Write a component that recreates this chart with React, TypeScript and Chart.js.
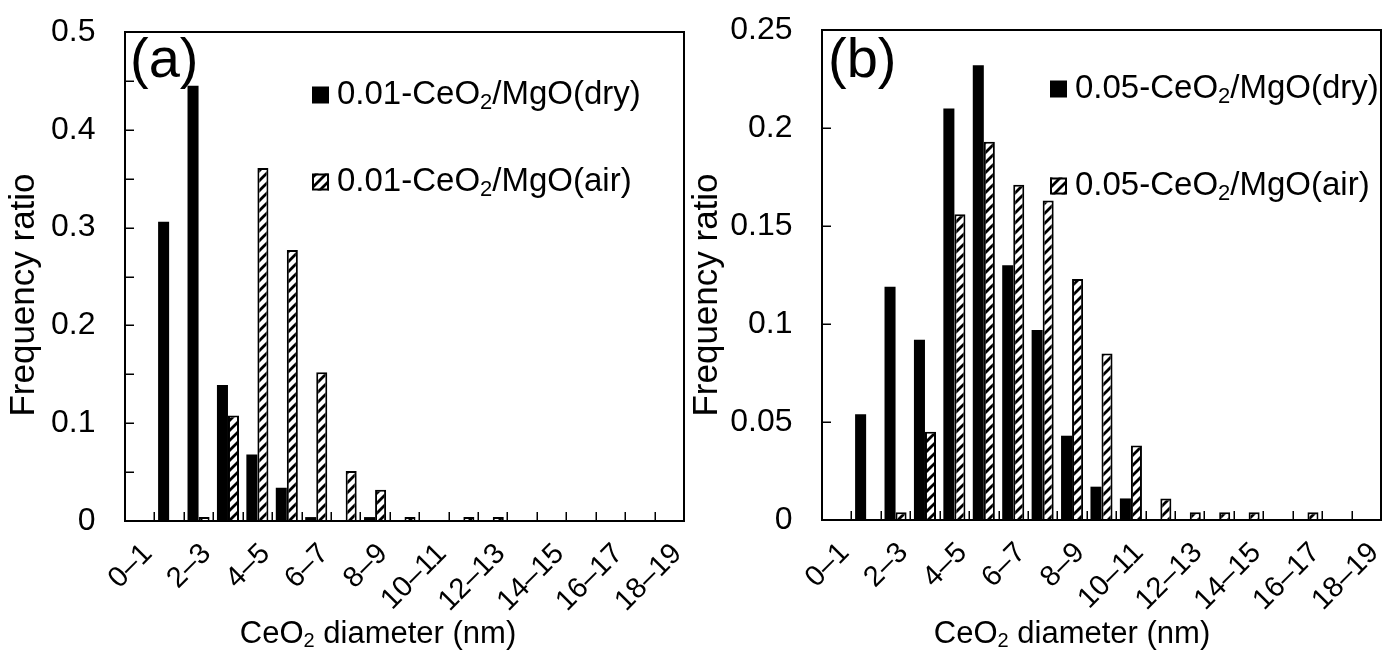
import React, { useEffect, useRef } from 'react';
import { Chart, registerables } from 'chart.js';

Chart.register(...registerables);

const FONT = '"Liberation Sans", Arial, Helvetica, sans-serif';

// Size bins (nm)
const categories = [
  '0–1', '1–2', '2–3', '3–4', '4–5', '5–6', '6–7', '7–8', '8–9', '9–10',
  '10–11', '11–12', '12–13', '13–14', '14–15', '15–16', '16–17', '17–18', '18–19',
];

// Panel (a)
const seriesNamesA = ['0.01-CeO₂/MgO(dry)', '0.01-CeO₂/MgO(air)'];
const dryA = [0, 0.306, 0.445, 0.139, 0.068, 0.034, 0.004, 0, 0.004, 0, 0, 0, 0, 0, 0, 0, 0, 0, 0];
const airA = [0, 0, 0.004, 0.108, 0.361, 0.277, 0.152, 0.051, 0.032, 0.004, 0, 0.004, 0.004, 0, 0, 0, 0, 0, 0];

// Panel (b)
const seriesNamesB = ['0.05-CeO₂/MgO(dry)', '0.05-CeO₂/MgO(air)'];
const dryB = [0, 0.054, 0.119, 0.092, 0.210, 0.232, 0.130, 0.097, 0.043, 0.017, 0.011, 0, 0, 0, 0, 0, 0, 0, 0];
const airB = [0, 0, 0.004, 0.045, 0.156, 0.193, 0.171, 0.163, 0.123, 0.085, 0.038, 0.011, 0.004, 0.004, 0.004, 0, 0.004, 0, 0];

const yTitle = 'Frequency ratio';
const xTitle = 'CeO₂ diameter (nm)';

function makeHatch(): CanvasPattern | string {
  const s = 10;
  const c = document.createElement('canvas');
  c.width = s;
  c.height = s;
  const g = c.getContext('2d');
  if (!g) return '#fff';
  g.fillStyle = '#fff';
  g.fillRect(0, 0, s, s);
  g.strokeStyle = '#000';
  g.lineWidth = 2.8;
  g.beginPath();
  g.moveTo(0, s); g.lineTo(s, 0);
  g.moveTo(-s / 4, s / 4); g.lineTo(s / 4, -s / 4);
  g.moveTo((3 * s) / 4, (5 * s) / 4); g.lineTo((5 * s) / 4, (3 * s) / 4);
  g.stroke();
  const p = g.createPattern(c, 'repeat');
  return p || '#fff';
}

function drawRich(ctx: CanvasRenderingContext2D, text: string, x: number, y: number, size: number, align: 'left' | 'center') {
  const parts = text.split('₂');
  const subSize = Math.round(size * 0.66);
  const main = `${size}px ${FONT}`;
  const sub = `${subSize}px ${FONT}`;
  ctx.textBaseline = 'middle';
  ctx.textAlign = 'left';
  let total = 0;
  parts.forEach((p, i) => {
    ctx.font = main;
    total += ctx.measureText(p).width;
    if (i < parts.length - 1) {
      ctx.font = sub;
      total += ctx.measureText('2').width;
    }
  });
  let cx = align === 'center' ? x - total / 2 : x;
  parts.forEach((p, i) => {
    ctx.font = main;
    ctx.fillText(p, cx, y);
    cx += ctx.measureText(p).width;
    if (i < parts.length - 1) {
      ctx.font = sub;
      ctx.fillText('2', cx, y + size * 0.24);
      cx += ctx.measureText('2').width;
    }
  });
}

type PanelCfg = {
  key: string;
  canvasLeft: number;
  canvasWidth: number;
  plotLeft: number;
  plotRight: number;
  plotTop: number;
  plotBottom: number;
  yMax: number;
  yStep: number;
  yMinor: number;
  panelLabel: string;
  labelX: number;
  legendX: number;
  legendTextX: number;
  legendY: [number, number];
  xTitleX: number;
  yTitleX: number;
  names: string[];
  dry: number[];
  air: number[];
};

const H = 662;

const panels: PanelCfg[] = [
  {
    key: 'a', canvasLeft: 0, canvasWidth: 688,
    plotLeft: 125, plotRight: 684, plotTop: 32, plotBottom: 521,
    yMax: 0.5, yStep: 0.1, yMinor: 0.05,
    panelLabel: '(a)', labelX: 130,
    legendX: 312, legendTextX: 337, legendY: [95, 182],
    xTitleX: 378, yTitleX: 24,
    names: seriesNamesA, dry: dryA, air: airA,
  },
  {
    key: 'b', canvasLeft: 688, canvasWidth: 695,
    plotLeft: 134, plotRight: 693, plotTop: 30, plotBottom: 520,
    yMax: 0.25, yStep: 0.05, yMinor: 0.05,
    panelLabel: '(b)', labelX: 140,
    legendX: 362, legendTextX: 387, legendY: [89, 186],
    xTitleX: 384, yTitleX: 19,
    names: seriesNamesB, dry: dryB, air: airB,
  },
];

function zeroPad(s: any) {
  s.paddingTop = 0;
  s.paddingBottom = 0;
  s.paddingLeft = 0;
  s.paddingRight = 0;
}

function Panel({ cfg }: { cfg: PanelCfg }) {
  const ref = useRef<HTMLCanvasElement | null>(null);
  useEffect(() => {
    const canvas = ref.current;
    if (!canvas) return;
    const hatch = makeHatch();
    const nz = (v: number) => (v > 0 ? v : null);

    const framePlugin = {
      id: 'frame' + cfg.key,
      afterDraw(chart: any) {
        const { ctx, chartArea, scales } = chart;
        const { left, right, top, bottom } = chartArea;
        const x = scales.x;
        const y = scales.y;
        ctx.save();
        ctx.strokeStyle = '#000';
        // inner ticks on y
        ctx.lineWidth = 1.5;
        ctx.beginPath();
        for (let v = cfg.yMinor; v < cfg.yMax - 1e-9; v += cfg.yMinor) {
          const py = Math.round(y.getPixelForValue(v)) + 0.25;
          ctx.moveTo(left, py);
          ctx.lineTo(left + 9, py);
        }
        // inner ticks on x at category boundaries
        for (let i = 1; i < categories.length; i++) {
          const px = Math.round((x.getPixelForValue(i - 1) + x.getPixelForValue(i)) / 2) + 0.25;
          ctx.moveTo(px, bottom);
          ctx.lineTo(px, bottom - 9);
        }
        ctx.stroke();
        // frame
        ctx.lineWidth = 2;
        ctx.strokeRect(left, top, right - left, bottom - top);

        ctx.fillStyle = '#000';
        // panel label
        ctx.font = `56px ${FONT}`;
        ctx.textAlign = 'left';
        ctx.textBaseline = 'alphabetic';
        ctx.fillText(cfg.panelLabel, cfg.labelX, 77);

        // legend
        const sq = 17;
        cfg.names.forEach((name, i) => {
          const cy = cfg.legendY[i];
          const sx = cfg.legendX;
          const sy = cy - sq / 2;
          if (i === 0) {
            ctx.fillStyle = '#000';
            ctx.fillRect(sx, sy, sq, sq);
          } else {
            ctx.fillStyle = hatch as any;
            ctx.fillRect(sx, sy, sq, sq);
            ctx.lineWidth = 2;
            ctx.strokeRect(sx + 1, sy + 1, sq - 2, sq - 2);
          }
          ctx.fillStyle = '#000';
          drawRich(ctx, name, cfg.legendTextX, cy, 33, 'left');
        });

        // axis titles
        drawRich(ctx, xTitle, cfg.xTitleX, 634, 31, 'center');
        ctx.save();
        ctx.translate(cfg.yTitleX, 295);
        ctx.rotate(-Math.PI / 2);
        ctx.font = `35px ${FONT}`;
        ctx.textAlign = 'center';
        ctx.textBaseline = 'middle';
        ctx.fillText(yTitle, 0, 0);
        ctx.restore();
        ctx.restore();
      },
    };

    const chart = new Chart(canvas, {
      type: 'bar',
      data: {
        labels: categories,
        datasets: [
          {
            label: cfg.names[0],
            data: cfg.dry.map(nz),
            backgroundColor: '#000',
            borderWidth: 0,
          },
          {
            label: cfg.names[1],
            data: cfg.air.map(nz),
            backgroundColor: hatch as any,
            borderColor: '#000',
            borderWidth: 2,
          },
        ],
      },
      options: {
        responsive: false,
        animation: false,
        events: [],
        layout: {
          padding: {
            left: 0,
            top: cfg.plotTop,
            right: cfg.canvasWidth - cfg.plotRight,
            bottom: 0,
          },
        },
        datasets: {
          bar: { categoryPercentage: 0.75, barPercentage: 1 },
        },
        plugins: {
          legend: { display: false },
          tooltip: { enabled: false },
          title: { display: false },
        },
        scales: {
          x: {
            type: 'category',
            grid: { display: false, drawTicks: false },
            border: { display: false },
            ticks: {
              autoSkip: false,
              minRotation: 45,
              maxRotation: 45,
              padding: 16,
              labelOffset: 8,
              color: '#000',
              font: { family: FONT, size: 29 },
              callback: (_v: any, i: number) => (i % 2 === 0 ? categories[i] : ''),
            },
            afterFit: (s: any) => { s.height = H - cfg.plotBottom; zeroPad(s); },
          },
          y: {
            type: 'linear',
            min: 0,
            max: cfg.yMax,
            grid: { display: false, drawTicks: false },
            border: { display: false },
            ticks: {
              stepSize: cfg.yStep,
              padding: 29.5,
              color: '#000',
              font: { family: FONT, size: 32 },
              callback: (v: any) => String(+Number(v).toFixed(2)),
            },
            afterFit: (s: any) => { s.width = cfg.plotLeft; zeroPad(s); },
          },
        },
      } as any,
      plugins: [framePlugin],
    });
    return () => chart.destroy();
  }, [cfg]);

  return (
    <canvas
      ref={ref}
      width={cfg.canvasWidth}
      height={H}
      style={{ position: 'absolute', left: cfg.canvasLeft, top: 0, display: 'block' }}
    />
  );
}

export default function App() {
  useEffect(() => {
    document.body.style.margin = '0';
    document.body.style.background = '#fff';
  }, []);
  return (
    <div style={{ position: 'relative', width: 1383, height: H, background: '#fff', overflow: 'hidden' }}>
      {panels.map((p) => (
        <Panel key={p.key} cfg={p} />
      ))}
    </div>
  );
}
